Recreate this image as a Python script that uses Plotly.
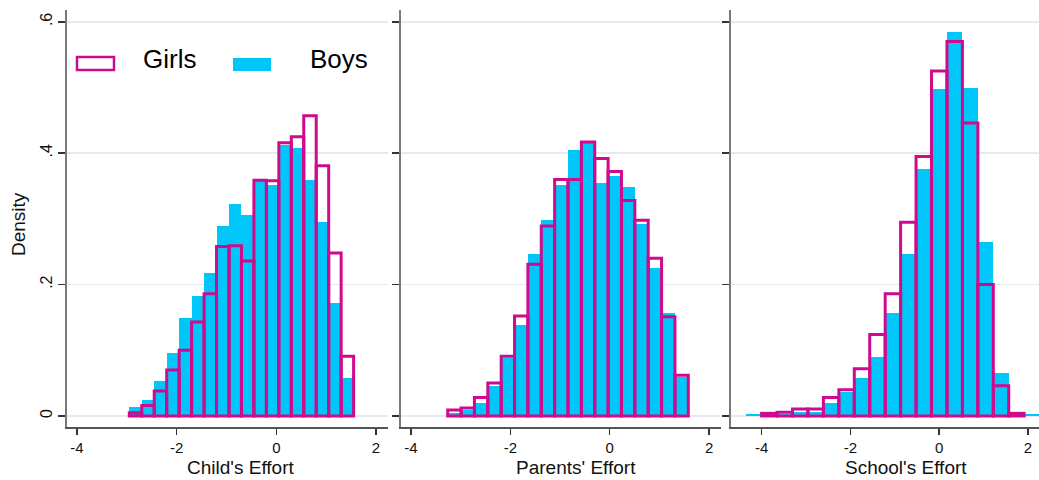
import plotly.graph_objects as go

# ---------------- data ----------------
panel_titles = ["Child's Effort", "Parents' Effort", "School's Effort"]

# Child's effort histogram (bin start, bin width, densities)
child_start = -2.95
child_width = 0.25
child_boys = [0.013, 0.024, 0.053, 0.096, 0.149, 0.183, 0.217, 0.289, 0.322,
              0.306, 0.361, 0.352, 0.413, 0.408, 0.359, 0.295, 0.172, 0.058]
child_girls = [0.005, 0.016, 0.038, 0.070, 0.100, 0.143, 0.186, 0.258, 0.259,
               0.236, 0.359, 0.358, 0.416, 0.425, 0.457, 0.381, 0.248, 0.091]

# Parents' effort histogram
parents_start = -3.26
parents_width = 0.269
parents_boys = [0.005, 0.009, 0.020, 0.046, 0.088, 0.139, 0.246, 0.299, 0.352,
                0.405, 0.415, 0.355, 0.365, 0.349, 0.292, 0.226, 0.156, 0.059]
parents_girls = [0.009, 0.012, 0.028, 0.050, 0.091, 0.152, 0.231, 0.289, 0.360,
                 0.360, 0.417, 0.392, 0.372, 0.328, 0.298, 0.240, 0.151, 0.062]

# School's effort histogram (boys have one extra bin on each side)
school_width = 0.348
school_girls_start = -4.0
school_girls = [0.004, 0.0056, 0.0107, 0.0107, 0.028, 0.040, 0.072, 0.124, 0.186,
                0.295, 0.395, 0.525, 0.570, 0.446, 0.200, 0.046, 0.004]
school_boys_start = -4.348
school_boys = [0.003, 0.002, 0.0035, 0.0066, 0.0066, 0.020, 0.037, 0.058, 0.090,
               0.157, 0.247, 0.376, 0.498, 0.585, 0.499, 0.265, 0.065, 0.002, 0.003]

y_tickvals = [0, 0.2, 0.4, 0.6]
y_ticktext = ["0", ".2", ".4", ".6"]
x_tickvals = [-4, -2, 0, 2]
x_ticktext = ["-4", "-2", "0", "2"]

# ---------------- style ----------------
CYAN = "#00C6FA"
MAGENTA = "#CF0A8C"
FONT = "Liberation Sans, Arial, sans-serif"
W, H = 1039, 480


def centers(start, width, n):
    return [start + width * (i + 0.5) for i in range(n)]


fig = go.Figure()

panels = [
    (child_start, child_width, child_boys, child_start, child_girls),
    (parents_start, parents_width, parents_boys, parents_start, parents_girls),
    (school_boys_start, school_width, school_boys, school_girls_start, school_girls),
]

for k, (bstart, width, boys, gstart, girls) in enumerate(panels):
    xa = "x" if k == 0 else f"x{k+1}"
    ya = "y" if k == 0 else f"y{k+1}"
    fig.add_trace(go.Bar(
        x=centers(bstart, width, len(boys)), y=boys, width=width,
        marker=dict(color=CYAN, line=dict(width=0)),
        name="Boys", showlegend=False, xaxis=xa, yaxis=ya))
    fig.add_trace(go.Bar(
        x=centers(gstart, width, len(girls)), y=girls, width=width,
        marker=dict(color="rgba(0,0,0,0)", line=dict(color=MAGENTA, width=3)),
        name="Girls", showlegend=False, xaxis=xa, yaxis=ya))

x_domains = [[67 / W, 388 / W], [401 / W, 721 / W], [731 / W, 1.0]]
x_ranges = [[-4.2, 2.24], [-4.2, 2.24], [-4.69, 2.25]]
y_domain = [1 - 427 / H, 1 - 10 / H]
y_range = [-0.0168, 0.618]

layout = dict(
    width=W, height=H, autosize=False,
    margin=dict(l=0, r=0, t=0, b=0, pad=0),
    paper_bgcolor="white", plot_bgcolor="white",
    barmode="overlay", bargap=0,
    font=dict(family=FONT, color="#111111"),
    showlegend=False,
)

for k in range(3):
    sx = "" if k == 0 else str(k + 1)
    layout["xaxis" + sx] = dict(
        domain=x_domains[k], range=x_ranges[k], anchor="y" + sx,
        tickvals=x_tickvals, ticktext=x_ticktext,
        ticks="outside", ticklen=6, tickwidth=1.5, tickcolor="#333333",
        tickfont=dict(size=15, family=FONT, color="#111111"),
        showline=True, linecolor="#555555", linewidth=2,
        showgrid=False, zeroline=False, fixedrange=True,
    )
    layout["yaxis" + sx] = dict(
        domain=y_domain, range=y_range, anchor="x" + sx,
        tickvals=y_tickvals, ticktext=y_ticktext, tickangle=-90,
        ticks="outside", ticklen=7, tickwidth=1.5, tickcolor="#333333",
        showticklabels=(k == 0),
        tickfont=dict(size=16, family=FONT, color="#111111"),
        showline=True, linecolor="#7a7a7a", linewidth=2,
        showgrid=True, gridcolor="#E6E9F1", gridwidth=1.5,
        zeroline=False, fixedrange=True,
    )

fig.update_layout(**layout)

annotations = []
title_x = [240.5, 576, 906]
for k, t in enumerate(panel_titles):
    annotations.append(dict(
        text=t, x=title_x[k] / W, y=1 - 467 / H, xref="paper", yref="paper",
        xanchor="center", yanchor="middle", showarrow=False,
        font=dict(size=19, family=FONT, color="#111111")))
annotations.append(dict(
    text="Density", x=18 / W, y=1 - 224 / H, xref="paper", yref="paper",
    xanchor="center", yanchor="middle", showarrow=False, textangle=-90,
    font=dict(size=19, family=FONT, color="#111111")))
# legend labels
annotations.append(dict(
    text="Girls", x=169 / W, y=1 - 59 / H, xref="paper", yref="paper",
    xanchor="center", yanchor="middle", showarrow=False,
    font=dict(size=26, family=FONT, color="#000000")))
annotations.append(dict(
    text="Boys", x=339 / W, y=1 - 59 / H, xref="paper", yref="paper",
    xanchor="center", yanchor="middle", showarrow=False,
    font=dict(size=26, family=FONT, color="#000000")))

shapes = [
    dict(type="rect", xref="paper", yref="paper",
         x0=77 / W, x1=114 / W, y0=1 - 70 / H, y1=1 - 57 / H,
         line=dict(color=MAGENTA, width=2.5), fillcolor="white"),
    dict(type="rect", xref="paper", yref="paper",
         x0=233 / W, x1=271 / W, y0=1 - 71 / H, y1=1 - 58 / H,
         line=dict(width=0), fillcolor=CYAN),
]

fig.update_layout(annotations=annotations, shapes=shapes)

fig.write_html(
    "out.html",
    config={"displayModeBar": False, "staticPlot": True},
    post_script="document.body.style.margin='0';document.body.style.overflow='hidden';",
)
